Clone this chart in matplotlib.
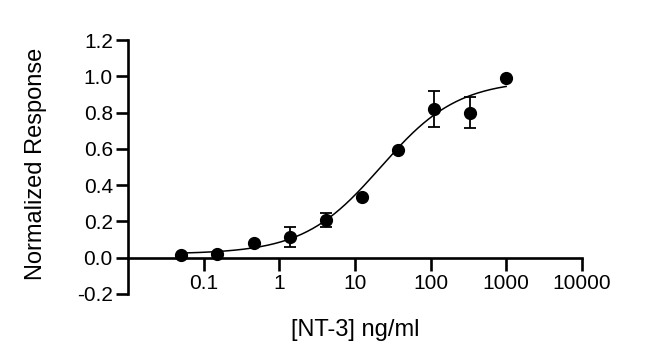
import numpy as np
import matplotlib
matplotlib.use("Agg")
import matplotlib.pyplot as plt
from matplotlib.ticker import FixedLocator, FixedFormatter, NullLocator

plt.rcParams['font.family'] = ['Liberation Sans', 'DejaVu Sans']

# Data (3-fold dilution series, ng/ml)
conc = [0.0508, 0.152, 0.457, 1.372, 4.115, 12.35, 37.04, 111.1, 333.3, 1000]
response = [0.013, 0.02, 0.081, 0.114, 0.209, 0.332, 0.593, 0.821, 0.80, 0.99]
err = [0.0, 0.0, 0.0, 0.054, 0.04, 0.0, 0.0, 0.10, 0.087, 0.0]

# 4-parameter logistic fit parameters
fit_bottom = 0.02
fit_top = 0.98
fit_ec50 = 22.0
fit_hill = 0.85

x_ticks = [0.1, 1, 10, 100, 1000, 10000]
x_ticklabels = ['0.1', '1', '10', '100', '1000', '10000']
y_ticks = [-0.2, 0.0, 0.2, 0.4, 0.6, 0.8, 1.0, 1.2]
y_ticklabels = ['-0.2', '0.0', '0.2', '0.4', '0.6', '0.8', '1.0', '1.2']

fig = plt.figure(figsize=(6.5, 3.62), dpi=100)
ax = fig.add_axes([0.197, 0.188, 0.895 - 0.197, 0.8895 - 0.188])

xc = np.logspace(np.log10(conc[0]), np.log10(conc[-1]), 300)
yc = fit_bottom + (fit_top - fit_bottom) / (1 + (fit_ec50 / xc) ** fit_hill)
ax.plot(xc, yc, color='black', lw=1.1, zorder=2)

c = np.array(conc); r = np.array(response); e = np.array(err)
m = e > 0
ax.errorbar(c[m], r[m], yerr=e[m], fmt='none', ecolor='black', elinewidth=1.3,
            capsize=4, capthick=1.3, zorder=3)
ax.plot(conc, response, 'o', color='black', markersize=8.5, zorder=4)

ax.set_xscale('log')
ax.set_xlim(0.01, 10000)
ax.set_ylim(-0.2, 1.2)

ax.spines['top'].set_visible(False)
ax.spines['right'].set_visible(False)
ax.spines['bottom'].set_position(('data', 0))
ax.spines['left'].set_linewidth(1.9)
ax.spines['bottom'].set_linewidth(1.9)

ax.xaxis.set_major_locator(FixedLocator(x_ticks))
ax.xaxis.set_major_formatter(FixedFormatter(x_ticklabels))
ax.xaxis.set_minor_locator(NullLocator())
ax.set_yticks(y_ticks)
ax.set_yticklabels(y_ticklabels)

ax.tick_params(axis='both', direction='out', length=9, width=1.9, labelsize=15,
               colors='black')
ax.tick_params(axis='x', pad=3)
ax.tick_params(axis='y', pad=2)

ax.set_xlabel('[NT-3] ng/ml', fontsize=17)
ax.set_ylabel('Normalized Response', fontsize=17)
ax.xaxis.set_label_coords(0.5, -(319 - 294) / 254)
ax.yaxis.set_label_coords((47 - 128) / 454, (294 - 164) / 254)

fig.savefig('out.png', dpi=100)
